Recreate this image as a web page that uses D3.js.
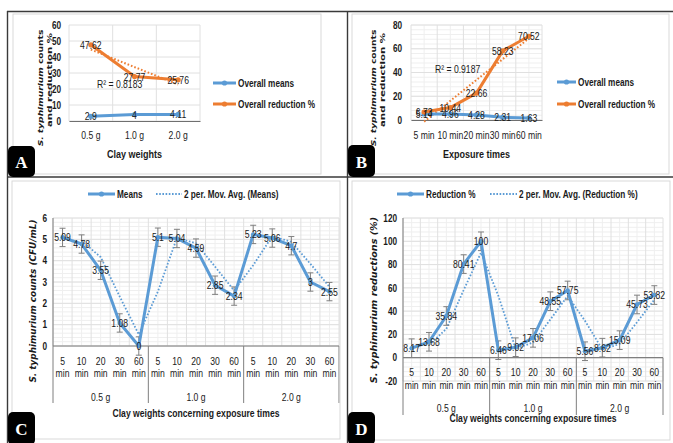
<!DOCTYPE html>
<html><head><meta charset="utf-8">
<script src="https://cdn.jsdelivr.net/npm/d3@7"></script>
<style>
body{margin:0;background:#fff;}
svg{display:block;}
</style></head><body>
<svg id="c" width="673" height="443"></svg>
<script>
// ---------------- DATA ----------------
const weights = ["0.5 g", "1.0 g", "2.0 g"];
const times = ["5 min", "10 min", "20 min", "30 min", "60 min"];
const overallMeansByWeight = [2.9, 4, 4.11];
const overallReductionByWeight = [47.62, 27.77, 25.76];
const overallMeansByTime = [5.14, 4.96, 4.28, 2.31, 1.63];
const overallReductionByTime = [6.73, 10.44, 22.66, 58.23, 70.52];
const means = [5.09, 4.78, 3.55, 1.08, 0, 5.1, 5.04, 4.59, 2.85, 2.34, 5.23, 5.06, 4.7, 3, 2.55];
const reductions = [8.17, 13.68, 35.84, 80.41, 100, 6.46, 9.02, 17.06, 48.55, 57.75, 5.56, 8.62, 15.09, 45.73, 53.82];
const meansError = 0.43;
const reductionError = 8;
const r2A = "R² = 0.8183";
const r2B = "R² = 0.9187";
const ticksA = [0, 10, 20, 30, 40, 50, 60];
const ticksB = [0, 20, 40, 60, 80];
const ticksC = [0, 1, 2, 3, 4, 5, 6];
const ticksD = [-20, 0, 20, 40, 60, 80, 100, 120];

// ---------------- STYLE ----------------
const NARROW = '"Liberation Sans","Arial",sans-serif';
const WIDE = '"DejaVu Sans","Verdana",sans-serif';
const SQUEEZE = 0.82;
const BLUE = "#5B9BD5", ORANGE = "#ED7D31", GRID = "#e0e0e0", MINOR = "#efefef", TXT = "#1a1a1a";
const svg = d3.select("#c");

function txt(g, x, y, s, size, weight, anchor) {
  return g.append("text").attr("class", "n").attr("x", x).attr("y", y).text(s)
    .attr("text-anchor", anchor || "middle").attr("dominant-baseline", "central")
    .style("font-family", NARROW).style("font-size", size + "px")
    .style("font-weight", weight || "normal").style("fill", TXT);
}
const yTitles = [];
function yTitle(g, x, yc, parts, italicAll, target, size) {
  const t = g.append("text")
    .attr("text-anchor", "middle").attr("dominant-baseline", "central")
    .style("font-family", WIDE).style("font-weight", "bold").style("font-size", (size || 8) + "px").style("fill", TXT);
  parts.forEach(p => t.append("tspan").text(p[0]).style("font-style", (p[1] || italicAll) ? "italic" : "normal"));
  yTitles.push({ t, x, yc, target });
}
function legendItem(g, x0, x1, y, color, dotted, label) {
  if (dotted) {
    g.append("line").attr("x1", x0).attr("x2", x1).attr("y1", y).attr("y2", y)
      .attr("stroke", color).attr("stroke-width", 1.8).attr("stroke-dasharray", "1.6,1.6");
  } else {
    g.append("line").attr("x1", x0).attr("x2", x1).attr("y1", y).attr("y2", y)
      .attr("stroke", color).attr("stroke-width", 3);
    g.append("circle").attr("cx", (x0 + x1) / 2).attr("cy", y).attr("r", 2.6).attr("fill", color);
  }
  txt(g, x1 + 2, y, label, 10, "bold", "start");
}
function letterBox(x, y, w, h, L) {
  svg.append("rect").attr("x", x).attr("y", y).attr("width", w).attr("height", h).attr("rx", 5).attr("fill", "#000");
  svg.append("text").attr("x", x + w / 2).attr("y", y + h / 2 + 1).text(L)
    .attr("text-anchor", "middle").attr("dominant-baseline", "central")
    .style("font-family", '"Liberation Serif","DejaVu Serif",serif').style("font-weight", "bold")
    .style("font-size", "17px").style("fill", "#fff");
}
function linreg(vals) {
  const xs = d3.range(vals.length);
  const mx = d3.mean(xs), my = d3.mean(vals);
  const sxy = d3.sum(xs, (xi, i) => (xi - mx) * (vals[i] - my));
  const sxx = d3.sum(xs, xi => (xi - mx) * (xi - mx));
  const b = sxy / sxx, a = my - b * mx;
  return i => a + b * i;
}
function styleAxisText(sel, bold) {
  sel.selectAll("text").attr("class", "n").style("font-family", NARROW).style("font-size", "10px")
    .style("fill", TXT).style("font-weight", bold ? "bold" : "normal");
}

// ---------------- SMALL CHARTS (A, B) ----------------
function smallChart(o) {
  const g = svg.append("g");
  const x = d3.scaleBand().domain(o.cats).range([o.x0, o.x1]);
  const y = d3.scaleLinear().domain([0, o.ymax]).range([o.yb, o.yt]);
  const cx = c => x(c) + x.bandwidth() / 2;
  if (o.minor) {
    g.selectAll(null).data(d3.range(0, o.ymax + 1e-9, o.minor)).join("line")
      .attr("x1", o.x0).attr("x2", o.x1).attr("y1", d => y(d)).attr("y2", d => y(d)).attr("stroke", MINOR);
    g.selectAll(null).data(o.cats).join("line")
      .attr("x1", d => cx(d)).attr("x2", d => cx(d)).attr("y1", o.yt).attr("y2", o.yb).attr("stroke", MINOR);
  }
  g.selectAll(null).data(o.ticks).join("line")
    .attr("x1", o.x0).attr("x2", o.x1).attr("y1", d => y(d)).attr("y2", d => y(d)).attr("stroke", GRID);
  const bounds = o.cats.map(c => x(c)).concat([o.x1]);
  g.selectAll(null).data(bounds).join("line")
    .attr("x1", d => d).attr("x2", d => d).attr("y1", o.yt).attr("y2", o.yb).attr("stroke", GRID);
  const ay = g.append("g").attr("transform", `translate(${o.x0},0)`)
    .call(d3.axisLeft(y).tickValues(o.ticks).tickFormat(d => String(d)).tickSize(0).tickPadding(o.tickPad));
  ay.select(".domain").remove();
  styleAxisText(ay, true);
  const ax = g.append("g").attr("transform", `translate(0,${o.yb})`)
    .call(d3.axisBottom(x).tickSize(0).tickPadding(o.xPad));
  ax.select(".domain").attr("stroke", "#6f6f6f").attr("stroke-width", 1.2);
  styleAxisText(ax, false);
  ax.selectAll("text").style("font-size", "10.5px");
  const f = linreg(o.s2);
  g.append("line").attr("x1", cx(o.cats[0])).attr("x2", cx(o.cats[o.cats.length - 1]))
    .attr("y1", y(f(0))).attr("y2", y(f(o.cats.length - 1)))
    .attr("stroke", ORANGE).attr("stroke-width", 2).attr("stroke-dasharray", "1.6,2");
  [[o.s1, BLUE], [o.s2, ORANGE]].forEach(([vals, col]) => {
    g.append("path").datum(vals).attr("fill", "none").attr("stroke", col).attr("stroke-width", 3)
      .attr("stroke-linejoin", "round")
      .attr("d", d3.line().x((d, i) => cx(o.cats[i])).y(d => y(d)));
    g.selectAll(null).data(vals).join("circle").attr("cx", (d, i) => cx(o.cats[i])).attr("cy", d => y(d))
      .attr("r", 2.6).attr("fill", col);
  });
  [o.s1, o.s2].forEach(vals => vals.forEach((v, i) => txt(g, cx(o.cats[i]), y(v), String(v), 10.5)));
  txt(g, o.r2x, o.r2y, o.r2, 10.5, "normal", "start");
  legendItem(g, o.lgX0, o.lgX1, o.lgY1, BLUE, false, "Overall means");
  legendItem(g, o.lgX0, o.lgX1, o.lgY2, ORANGE, false, "Overall reduction %");
  txt(g, (o.x0 + o.x1) / 2, o.titleY, o.xTitle, 11, "bold");
  yTitle(g, o.ytX1, o.ytY, [["S. typhimurium", true], [" counts", false]], false, 117, 7.6);
  yTitle(g, o.ytX2, o.ytY - 8, [["and reduction %", false]], false, 94, 7.6);
}

smallChart({
  cats: weights, s1: overallMeansByWeight, s2: overallReductionByWeight,
  x0: 69, x1: 200, yb: 121, yt: 25, ymax: 60, ticks: ticksA, tickPad: 8, xPad: 11,
  r2: r2A, r2x: 97, r2y: 84, lgX0: 213, lgX1: 236, lgY1: 83, lgY2: 104,
  titleY: 154, xTitle: "Clay weights", ytX1: 40.5, ytX2: 49, ytY: 88
});
smallChart({
  cats: times, s1: overallMeansByTime, s2: overallReductionByTime,
  x0: 411, x1: 542, yb: 120, yt: 25, ymax: 80, ticks: ticksB, tickPad: 9, xPad: 12, minor: 4,
  r2: r2B, r2x: 435, r2y: 69, lgX0: 557, lgX1: 576, lgY1: 82, lgY2: 104,
  titleY: 154, xTitle: "Exposure times", ytX1: 373.5, ytX2: 382.5, ytY: 88
});

// ---------------- BIG CHARTS (C, D) ----------------
function bigChart(o) {
  const g = svg.append("g");
  const n = o.vals.length;
  const idx = d3.range(n);
  const x = d3.scaleBand().domain(idx).range([o.x0, o.x1]);
  const bw = x.bandwidth();
  const cx = i => x(i) + bw / 2;
  const y = d3.scaleLinear().domain([o.ymin, o.ymax]).range([o.yb, o.yt]);
  g.selectAll(null).data(d3.range(o.ymin, o.ymax + 1e-9, o.minor)).join("line")
    .attr("x1", o.x0).attr("x2", o.x1).attr("y1", d => y(d)).attr("y2", d => y(d)).attr("stroke", MINOR);
  g.selectAll(null).data(idx).join("line")
    .attr("x1", d => cx(d)).attr("x2", d => cx(d)).attr("y1", o.yt).attr("y2", o.yb).attr("stroke", MINOR);
  g.selectAll(null).data(o.ticks).join("line")
    .attr("x1", o.x0).attr("x2", o.x1).attr("y1", d => y(d)).attr("y2", d => y(d)).attr("stroke", GRID);
  g.selectAll(null).data(idx.map(i => x(i)).concat([o.x1])).join("line")
    .attr("x1", d => d).attr("x2", d => d).attr("y1", o.yt).attr("y2", o.yb).attr("stroke", GRID);
  const ay = g.append("g").attr("transform", `translate(${o.x0},0)`)
    .call(d3.axisLeft(y).tickValues(o.ticks).tickFormat(d => String(d)).tickSize(0).tickPadding(6));
  ay.select(".domain").remove();
  styleAxisText(ay, true);
  const y0 = y(0);
  g.append("line").attr("x1", o.x0).attr("x2", o.x1).attr("y1", y0).attr("y2", y0).attr("stroke", "#7f7f7f").attr("stroke-width", 1.2);
  g.append("line").attr("x1", o.x0).attr("x2", o.x0).attr("y1", o.yt).attr("y2", o.axisEnd).attr("stroke", "#7f7f7f");
  [5, 10].map(i => x(i)).concat([o.x1]).forEach(xx =>
    g.append("line").attr("x1", xx).attr("x2", xx).attr("y1", y0).attr("y2", o.axisEnd).attr("stroke", "#7f7f7f"));
  idx.forEach(i => {
    const parts = times[i % 5].split(" ");
    txt(g, cx(i), o.lab1Y, parts[0], 10.5);
    txt(g, cx(i), o.lab2Y, parts[1], 10.5);
  });
  weights.forEach((w, k) => txt(g, (x(k * 5) + (k < 2 ? x(k * 5 + 5) : o.x1)) / 2, o.grpY, w, 10.5));
  const ma = idx.slice(1).map(i => [i, (o.vals[i - 1] + o.vals[i]) / 2]);
  g.append("path").datum(ma).attr("fill", "none").attr("stroke", BLUE).attr("stroke-width", 1.8)
    .attr("stroke-dasharray", "1.6,1.8")
    .attr("d", d3.line().x(d => cx(d[0])).y(d => y(d[1])));
  o.vals.forEach((v, i) => {
    const t = y(v + o.err), b = y(v - o.err), xx = cx(i);
    g.append("line").attr("x1", xx).attr("x2", xx).attr("y1", t).attr("y2", b).attr("stroke", "#7f7f7f");
    [t, b].forEach(yy => g.append("line").attr("x1", xx - 3).attr("x2", xx + 3).attr("y1", yy).attr("y2", yy).attr("stroke", "#7f7f7f"));
  });
  g.append("path").datum(o.vals).attr("fill", "none").attr("stroke", BLUE).attr("stroke-width", 3)
    .attr("stroke-linejoin", "round")
    .attr("d", d3.line().x((d, i) => cx(i)).y(d => y(d)));
  g.selectAll(null).data(o.vals).join("circle").attr("cx", (d, i) => cx(i)).attr("cy", d => y(d)).attr("r", 2.3).attr("fill", BLUE);
  o.vals.forEach((v, i) => txt(g, cx(i), y(v), String(v), 10.5));
  legendItem(g, o.lg1[0], o.lg1[1], o.lgY, BLUE, false, o.name);
  legendItem(g, o.lg2[0], o.lg2[1], o.lgY, BLUE, true, "2 per. Mov. Avg. (" + o.name + ")");
  txt(g, o.titleX, o.titleY, "Clay weights concerning exposure times", 10.5, "bold");
  yTitle(g, o.ytX, o.ytY, o.yTitleParts, true, o.ytLen, 8.4);
}

bigChart({
  vals: means, err: meansError, name: "Means",
  x0: 53, x1: 339, yb: 346, yt: 218, ymin: 0, ymax: 6, ticks: ticksC, minor: 0.2,
  axisEnd: 403, lab1Y: 361, lab2Y: 373, grpY: 397,
  lg1: [88, 115], lg2: [156, 182], lgY: 194,
  titleX: 196, titleY: 413, ytX: 33, ytY: 301, ytLen: 163,
  yTitleParts: [["S. typhimurium"], [" counts (CFU/mL)"]]
});
bigChart({
  vals: reductions, err: reductionError, name: "Reduction %",
  x0: 403, x1: 663, yb: 381, yt: 218, ymin: -20, ymax: 120, ticks: ticksD, minor: 4,
  axisEnd: 415, lab1Y: 372, lab2Y: 385, grpY: 408,
  lg1: [397, 424], lg2: [490, 517], lgY: 194,
  titleX: 533, titleY: 418, ytX: 374, ytY: 300, ytLen: 166,
  yTitleParts: [["S. typhimurium"], [" reductions (%)"]]
});

// ---------------- FRAMES ----------------
const frame = svg.append("g").attr("fill", "none");
frame.append("rect").attr("x", 13).attr("y", 14).attr("width", 308).attr("height", 160).attr("stroke", "#d9d9d9");
frame.append("rect").attr("x", 352).attr("y", 14).attr("width", 317).attr("height", 160).attr("stroke", "#d9d9d9");
frame.append("rect").attr("x", 12).attr("y", 181).attr("width", 328).attr("height", 258).attr("stroke", "#d9d9d9");
frame.append("rect").attr("x", 352).attr("y", 181).attr("width", 318).attr("height", 259).attr("stroke", "#d9d9d9");
[[7, 11.5, 673, 11.5], [7.5, 11, 7.5, 443], [7, 177, 673, 177], [347.5, 11, 347.5, 443]].forEach(l =>
  frame.append("line").attr("x1", l[0]).attr("y1", l[1]).attr("x2", l[2]).attr("y2", l[3]).attr("stroke", "#3a3a3a").attr("stroke-width", 1.4));

letterBox(8, 146, 27, 31, "A");
letterBox(348, 145, 27, 32, "B");
letterBox(8, 412, 27, 33, "C");
letterBox(348, 412, 27, 33, "D");

// ---------------- NARROW-FONT EMULATION ----------------
svg.selectAll("text.n").each(function () {
  const len = this.getComputedTextLength();
  if (len > 0) d3.select(this).attr("textLength", len * SQUEEZE).attr("lengthAdjust", "spacingAndGlyphs");
});
yTitles.forEach(({ t, x, yc, target }) => {
  const len = t.node().getComputedTextLength();
  const k = target / len;
  t.attr("transform", `translate(${x},${yc}) rotate(-90) scale(${k},1)`);
});
</script>
</body></html>
